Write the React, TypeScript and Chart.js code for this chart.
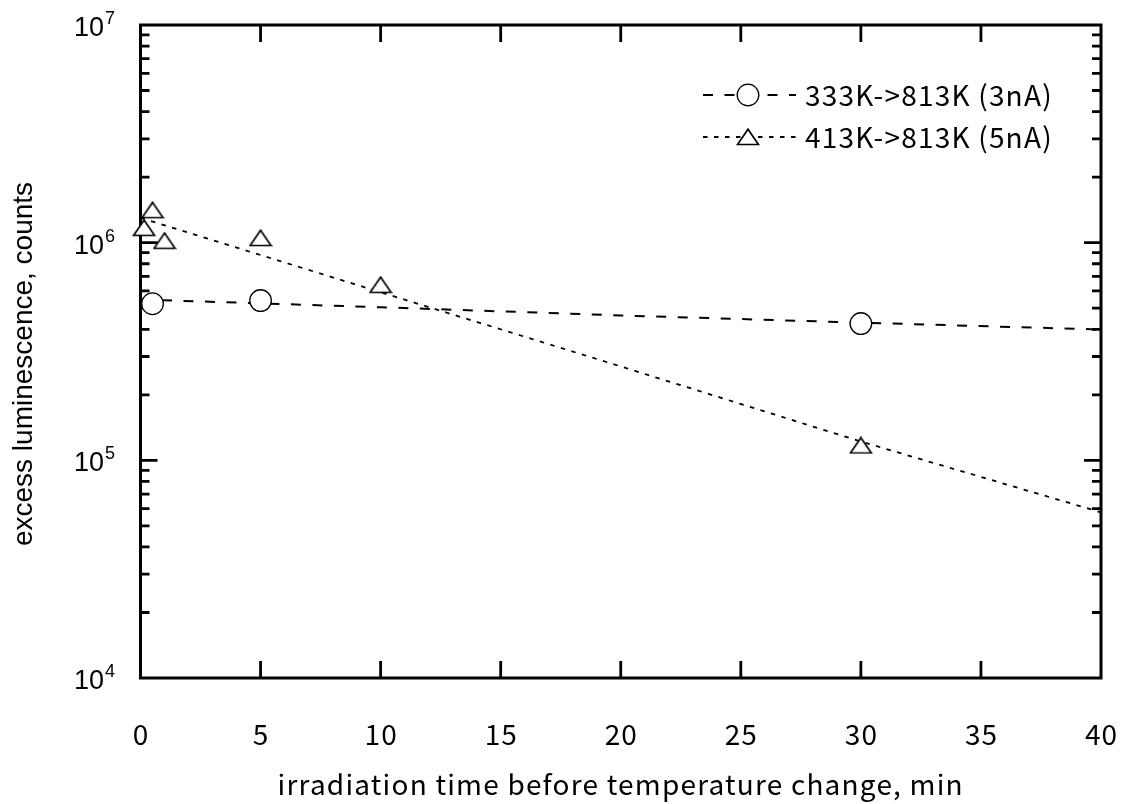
import { useEffect, useRef } from "react";
import { Chart, registerables } from "chart.js";

Chart.register(...registerables);

// ---- data ----
const circleX = [0.5, 5, 30];
const circleY = [5.24e5, 5.42e5, 4.25e5];
const triX = [0.15, 0.5, 1, 5, 10, 30];
const triY = [1.17e6, 1.41e6, 1.02e6, 1.05e6, 6.4e5, 1.17e5];
const fitX = [0, 10, 20, 30, 40];
const fitCircleY = [5.48e5, 5.05e5, 4.63e5, 4.29e5, 3.99e5];
const fitTriY = [1.3e6, 5.92e5, 2.7e5, 1.22e5, 5.77e4];
const xTicks = [0, 5, 10, 15, 20, 25, 30, 35, 40];
const yDecades = [4, 5, 6, 7];
const legendLabels = ["333K->813K (3nA)", "413K->813K (5nA)"];
const xTitle = "irradiation time before temperature change, min";
const yTitle = "excess luminescence, counts";

const JP = '"Noto Sans CJK JP", "Noto Sans", sans-serif';
const SANS = '"Liberation Sans", Arial, sans-serif';
const CIRCLE_DASH = [10, 11.5];
const TRI_DASH = [4.5, 6.5];

function makeTriangle(): HTMLCanvasElement {
  const c = document.createElement("canvas");
  c.width = 24;
  c.height = 18;
  const g = c.getContext("2d")!;
  g.beginPath();
  g.moveTo(1.5, 16.5);
  g.lineTo(22.5, 16.5);
  g.lineTo(12, 1.2);
  g.closePath();
  g.fillStyle = "#fff";
  g.fill();
  g.lineWidth = 1.7;
  g.strokeStyle = "#000";
  g.stroke();
  return c;
}

export default function App() {
  const ref = useRef<HTMLCanvasElement | null>(null);

  useEffect(() => {
    const canvas = ref.current;
    if (!canvas) return;
    const tri = makeTriangle();

    const framePlugin = {
      id: "frame",
      beforeDatasetsDraw(chart: any) {
        const { ctx, chartArea, scales } = chart;
        const { left, right, top, bottom } = chartArea;
        const xs = scales.x;
        const ys = scales.y;
        ctx.save();
        ctx.strokeStyle = "#000";
        ctx.fillStyle = "#000";
        // ticks
        ctx.lineWidth = 2.8;
        xTicks.forEach((v) => {
          const px = xs.getPixelForValue(v);
          if (v === xTicks[0] || v === xTicks[xTicks.length - 1]) return;
          ctx.beginPath();
          ctx.moveTo(px, bottom);
          ctx.lineTo(px, bottom - 17);
          ctx.moveTo(px, top);
          ctx.lineTo(px, top + 17);
          ctx.stroke();
        });
        yDecades.forEach((d) => {
          for (let m = 1; m <= 9; m++) {
            const v = m * Math.pow(10, d);
            if (v > 1e7 || (m === 1 && (d === 4 || d === 7))) continue;
            const py = ys.getPixelForValue(v);
            const len = m === 1 ? 17 : 9;
            ctx.beginPath();
            ctx.moveTo(left, py);
            ctx.lineTo(left + len, py);
            ctx.moveTo(right, py);
            ctx.lineTo(right - len, py);
            ctx.stroke();
          }
        });
        // frame
        ctx.lineWidth = 3;
        ctx.strokeRect(left, top, right - left, bottom - top);

        // x tick labels
        ctx.font = `28px ${JP}`;
        ctx.letterSpacing = "1px";
        ctx.textAlign = "center";
        ctx.textBaseline = "middle";
        xTicks.forEach((v) => {
          ctx.fillText(String(v), xs.getPixelForValue(v) + 0.5, bottom + 56);
        });
        ctx.letterSpacing = "0px";
        // y tick labels 10^n
        yDecades.forEach((d) => {
          const py = ys.getPixelForValue(Math.pow(10, d));
          ctx.font = `27px ${SANS}`;
          ctx.textAlign = "right";
          ctx.textBaseline = "alphabetic";
          ctx.fillText("10", 104, py + 11);
          ctx.font = `18px ${SANS}`;
          ctx.textAlign = "left";
          ctx.fillText(String(d), 105, py - 1);
        });
        // axis titles
        ctx.font = `28px ${JP}`;
        ctx.letterSpacing = "1.2px";
        ctx.textAlign = "center";
        ctx.textBaseline = "middle";
        ctx.fillText(xTitle, (left + right) / 2, 784);
        ctx.letterSpacing = "0px";
        ctx.save();
        ctx.translate(24, 364);
        ctx.rotate(-Math.PI / 2);
        ctx.font = `28px ${SANS}`;
        ctx.fillText(yTitle, 0, 0);
        ctx.restore();

        // legend
        const rows = [95, 137];
        ctx.lineWidth = 2;
        ctx.setLineDash(CIRCLE_DASH);
        ctx.beginPath();
        ctx.moveTo(703, rows[0]);
        ctx.lineTo(796, rows[0]);
        ctx.stroke();
        ctx.lineWidth = 1.8;
        ctx.setLineDash(TRI_DASH);
        ctx.beginPath();
        ctx.moveTo(703, rows[1]);
        ctx.lineTo(796, rows[1]);
        ctx.stroke();
        ctx.setLineDash([]);
        ctx.beginPath();
        ctx.arc(748, rows[0], 10.8, 0, Math.PI * 2);
        ctx.fillStyle = "#fff";
        ctx.fill();
        ctx.lineWidth = 1.3;
        ctx.stroke();
        ctx.drawImage(tri, 748 - tri.width / 2, rows[1] - tri.height / 2);
        ctx.fillStyle = "#000";
        ctx.font = `28px ${JP}`;
        ctx.letterSpacing = "1.2px";
        ctx.textAlign = "left";
        ctx.textBaseline = "middle";
        ctx.fillText(legendLabels[0], 805, rows[0]);
        ctx.fillText(legendLabels[1], 805, rows[1]);
        ctx.letterSpacing = "0px";
        ctx.restore();
      },
    };

    const chart = new Chart(canvas, {
      type: "line",
      data: {
        datasets: [
          {
            label: legendLabels[0],
            data: circleX.map((x, i) => ({ x, y: circleY[i] })),
            showLine: false,
            pointStyle: "circle",
            pointRadius: 10.8,
            pointBorderWidth: 1.3,
            pointBorderColor: "#000",
            pointBackgroundColor: "#fff",
            clip: false as any,
          },
          {
            label: legendLabels[1],
            data: triX.map((x, i) => ({ x, y: triY[i] })),
            showLine: false,
            pointStyle: tri as any,
            pointRadius: 11,
            pointBorderColor: "#000",
            pointBackgroundColor: "#fff",
            clip: false as any,
          },
          {
            label: "fit1",
            data: fitX.map((x, i) => ({ x, y: fitCircleY[i] })),
            borderColor: "#000",
            borderWidth: 2,
            borderDash: CIRCLE_DASH,
            pointRadius: 0,
            tension: 0,
          },
          {
            label: "fit2",
            data: fitX.map((x, i) => ({ x, y: fitTriY[i] })),
            borderColor: "#000",
            borderWidth: 1.8,
            borderDash: TRI_DASH,
            pointRadius: 0,
            tension: 0,
          },
        ],
      },
      options: {
        animation: false,
        responsive: false,
        devicePixelRatio: 1,
        layout: { padding: { left: 140.5, top: 25, right: 23, bottom: 126 } },
        scales: {
          x: { type: "linear", min: 0, max: 40, display: false },
          y: { type: "logarithmic", min: 1e4, max: 1e7, display: false },
        },
        plugins: {
          legend: { display: false },
          tooltip: { enabled: false },
        },
      },
      plugins: [framePlugin],
    });
    return () => chart.destroy();
  }, []);

  return (
    <div style={{ position: "fixed", left: 0, top: 0, width: 1124, height: 804, background: "#fff" }}>
      <canvas ref={ref} width={1124} height={804} />
    </div>
  );
}
